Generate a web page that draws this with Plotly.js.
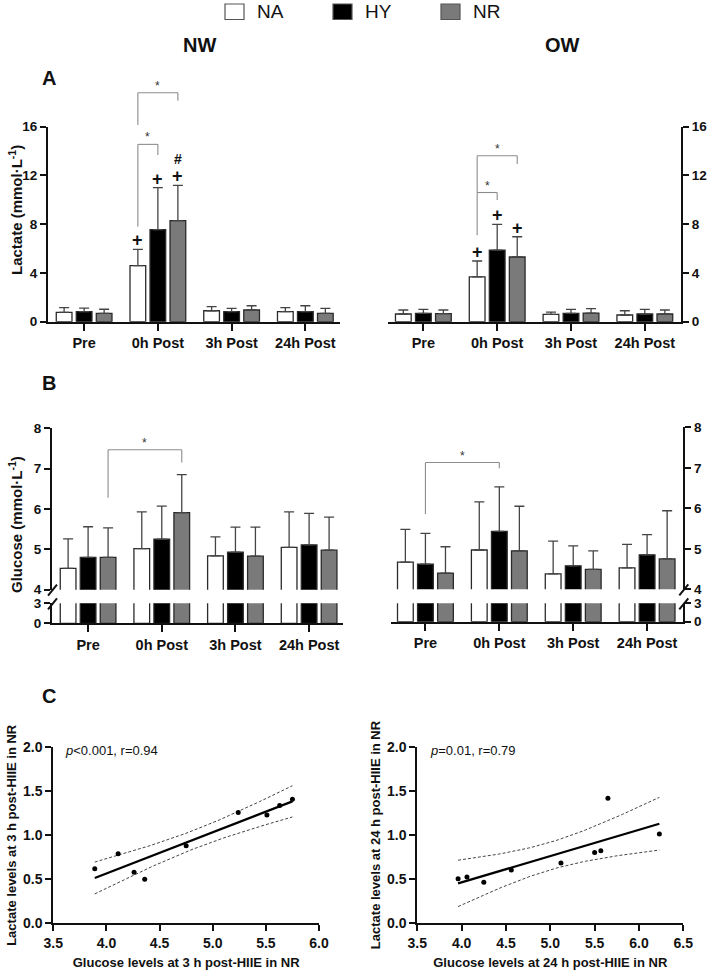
<!DOCTYPE html>
<html>
<head>
<meta charset="utf-8">
<script src="https://cdn.plot.ly/plotly-3.0.1.min.js"></script>
<style>
  html, body { margin: 0; padding: 0; background: #fff; }
  #chart { width: 709px; height: 970px; }
</style>
</head>
<body>
<div id="chart"></div>
<script>
// ---------------- data ----------------
const timepoints = ['Pre', '0h Post', '3h Post', '24h Post'];
const groups = ['NA', 'HY', 'NR'];

// Blood lactate (mmol·L-1), mean and SD — normal weight (NW)
const lacNW_NA = [0.77, 4.60, 0.90, 0.82];
const lacNW_HY = [0.82, 7.55, 0.82, 0.82];
const lacNW_NR = [0.68, 8.29, 0.96, 0.68];
const lacNW_NA_sd = [0.38, 1.34, 0.33, 0.33];
const lacNW_HY_sd = [0.30, 3.45, 0.28, 0.49];
const lacNW_NR_sd = [0.34, 2.90, 0.35, 0.42];

// Blood lactate — overweight (OW)
const lacOW_NA = [0.63, 3.67, 0.60, 0.55];
const lacOW_HY = [0.68, 5.88, 0.68, 0.63];
const lacOW_NR = [0.66, 5.31, 0.71, 0.63];
const lacOW_NA_sd = [0.33, 1.31, 0.19, 0.35];
const lacOW_HY_sd = [0.33, 2.11, 0.33, 0.38];
const lacOW_NR_sd = [0.30, 1.66, 0.36, 0.33];

// Blood glucose (mmol·L-1) — NW
const gluNW_NA = [4.53, 5.02, 4.84, 5.05];
const gluNW_HY = [4.80, 5.25, 4.93, 5.11];
const gluNW_NR = [4.80, 5.91, 4.83, 4.98];
const gluNW_NA_sd = [0.73, 0.91, 0.47, 0.88];
const gluNW_HY_sd = [0.76, 0.82, 0.62, 0.78];
const gluNW_NR_sd = [0.73, 0.94, 0.72, 0.82];

// Blood glucose — OW
const gluOW_NA = [4.67, 4.97, 4.38, 4.53];
const gluOW_HY = [4.62, 5.43, 4.58, 4.85];
const gluOW_NR = [4.40, 4.95, 4.49, 4.75];
const gluOW_NA_sd = [0.81, 1.19, 0.81, 0.58];
const gluOW_HY_sd = [0.76, 1.10, 0.49, 0.50];
const gluOW_NR_sd = [0.65, 1.10, 0.46, 1.19];

// Symbols over bars: [timepoint, group, symbol]
const marksLacNW = [[1, 0, '+'], [1, 1, '+'], [1, 2, '+'], [1, 2, '#']];
const marksLacOW = [[1, 0, '+'], [1, 1, '+'], [1, 2, '+']];

// Significance brackets: [tpFrom, groupFrom, tpTo, groupTo, top, leftEnd, rightEnd]
const bracketsLacNW = [[1, 0, 1, 1, 14.55, 7.8, 13.67], [1, 0, 1, 2, 18.79, 16.14, 18.13]];
const bracketsLacOW = [[1, 0, 1, 1, 10.6, 7.1, 9.98], [1, 0, 1, 2, 13.62, 10.6, 12.94]];
const bracketsGluNW = [[0, 2, 1, 2, 7.47, 6.28, 7.15]];
const bracketsGluOW = [[0, 1, 1, 1, 7.13, 5.86, 6.99]];

// Correlations in NR: glucose vs lactate
const glu3h  = [3.89, 4.11, 4.26, 4.36, 4.75, 5.24, 5.51, 5.63, 5.75];
const lac3h  = [0.62, 0.79, 0.58, 0.50, 0.88, 1.26, 1.23, 1.34, 1.41];
const glu24h = [3.96, 4.06, 4.25, 4.56, 5.12, 5.50, 5.57, 5.65, 6.23];
const lac24h = [0.50, 0.52, 0.46, 0.60, 0.68, 0.80, 0.82, 1.42, 1.01];
const stats3h  = '<i>p</i>&lt;0.001, r=0.94';
const stats24h = '<i>p</i>=0.01, r=0.79';

// ---------------- helpers ----------------
const W = 709, H = 970;
const fx = p => p / W;          // pixel column -> paper x
const fy = p => 1 - p / H;      // pixel row -> paper y

const FONT = 'Liberation Sans, Arial, Helvetica, sans-serif';
const INK = '#111111';
const BRACKET = '#8c8c8c';
const fills = ['#ffffff', '#000000', '#7a7a7a'];

const BARGAP = 0.186, BARGROUPGAP = 0.215;
const OFF = (1 - BARGAP) / 3;   // spacing of bar centres inside a group

const ranges = {};
const dom = (ax, v) => { const r = ranges[ax]; return (v - r[0]) / (r[1] - r[0]); };

function catAxis(px0, px1, range, anchor) {
  return {
    domain: [fx(px0), fx(px1)], range, anchor,
    tickvals: [0, 1, 2, 3], ticktext: timepoints,
    showline: true, linewidth: 2, linecolor: INK,
    ticks: 'outside', ticklen: 7, tickwidth: 2, tickcolor: INK,
    showgrid: false, zeroline: false,
    tickfont: { family: FONT, size: 14.5, color: INK, weight: 'bold' }
  };
}
function valAxis(top, bottom, range, anchor, side, tickvals, shift) {
  return {
    domain: [fy(bottom), fy(top)], range, anchor, side, tickvals,
    showline: true, linewidth: 2, linecolor: INK,
    ticks: 'outside', ticklen: 6, tickwidth: 2, tickcolor: INK,
    showgrid: false, zeroline: false, ticklabelshift: shift || 0,
    tickfont: { family: FONT, size: 13.5, color: INK, weight: 'bold' }
  };
}

const traces = [];
const shapes = [];
const annotations = [];

function addBars(xa, ya, series, sds) {
  series.forEach((vals, g) => {
    traces.push({
      type: 'bar', x: [0, 1, 2, 3], y: vals, xaxis: xa, yaxis: ya,
      name: groups[g], showlegend: false, hoverinfo: 'skip',
      marker: { color: fills[g], line: { color: '#2a2a2a', width: 1.3 } },
      error_y: sds
        ? { type: 'data', symmetric: false, array: sds[g], arrayminus: [0, 0, 0, 0],
            color: '#444', thickness: 1.3, width: 5 }
        : { visible: false }
    });
  });
}

function addMarks(xa, ya, series, sds, marks) {
  const seen = {};
  marks.forEach(([t, g, sym]) => {
    const key = t + '-' + g;
    const k = seen[key] || 0; seen[key] = k + 1;
    annotations.push({
      xref: xa + ' domain', yref: ya + ' domain',
      x: dom(xa, t + (g - 1) * OFF), y: dom(ya, series[g][t] + sds[g][t]),
      text: sym, showarrow: false, xanchor: 'center', yanchor: 'middle',
      yshift: 9 + k * 17, borderpad: 0,
      font: { family: FONT, size: sym === '+' ? 18 : 14, color: INK, weight: 'bold' }
    });
  });
}

function addBrackets(xa, ya, list) {
  list.forEach(([t0, g0, t1, g1, top, l, r]) => {
    const xl = dom(xa, t0 + (g0 - 1) * OFF), xr = dom(xa, t1 + (g1 - 1) * OFF);
    const yt = dom(ya, top), yl = dom(ya, l), yr = dom(ya, r);
    const base = { type: 'line', xref: xa + ' domain', yref: ya + ' domain',
                   line: { color: BRACKET, width: 1.1 } };
    shapes.push(Object.assign({}, base, { x0: xl, x1: xl, y0: yl, y1: yt }));
    shapes.push(Object.assign({}, base, { x0: xl, x1: xr, y0: yt, y1: yt }));
    shapes.push(Object.assign({}, base, { x0: xr, x1: xr, y0: yt, y1: yr }));
    annotations.push({
      xref: xa + ' domain', yref: ya + ' domain', x: (xl + xr) / 2, y: yt,
      text: '*', showarrow: false, xanchor: 'center', yanchor: 'middle', yshift: 7,
      font: { family: FONT, size: 12, color: '#333' }
    });
  });
}

// axis break marks on a split value axis (pixel position of axis line and segment ends)
function addBreak(axisPx, upperEndPx, lowerEndPx) {
  [upperEndPx, lowerEndPx].forEach(e => {
    shapes.push({ type: 'line', xref: 'paper', yref: 'paper',
      x0: fx(axisPx - 4), y0: fy(e + 6), x1: fx(axisPx + 5), y1: fy(e - 5),
      line: { color: INK, width: 2 } });
  });
}

// ---------------- regression with 95% confidence band ----------------
function lgamma(z) {
  const c = [0.99999999999980993, 676.5203681218851, -1259.1392167224028, 771.32342877765313,
             -176.61502916214059, 12.507343278686905, -0.13857109526572012,
             9.9843695780195716e-6, 1.5056327351493116e-7];
  if (z < 0.5) return Math.log(Math.PI / Math.sin(Math.PI * z)) - lgamma(1 - z);
  z -= 1;
  let x = c[0];
  for (let i = 1; i < 9; i++) x += c[i] / (z + i);
  const t = z + 7.5;
  return 0.5 * Math.log(2 * Math.PI) + (z + 0.5) * Math.log(t) - t + Math.log(x);
}
function tHalfArea(T, nu) {
  const k = Math.exp(lgamma((nu + 1) / 2) - lgamma(nu / 2)) / Math.sqrt(nu * Math.PI);
  const n = 400, h = T / n;
  let s = 0;
  for (let i = 0; i <= n; i++) {
    const t = i * h, f = k * Math.pow(1 + t * t / nu, -(nu + 1) / 2);
    s += (i === 0 || i === n) ? f : (i % 2 ? 4 * f : 2 * f);
  }
  return s * h / 3;
}
function tCrit(nu) {
  let lo = 0, hi = 20;
  for (let i = 0; i < 60; i++) { const m = (lo + hi) / 2; if (tHalfArea(m, nu) < 0.475) lo = m; else hi = m; }
  return (lo + hi) / 2;
}
function fit(xs, ys) {
  const n = xs.length;
  const mx = xs.reduce((a, b) => a + b, 0) / n, my = ys.reduce((a, b) => a + b, 0) / n;
  let sxx = 0, sxy = 0;
  xs.forEach((x, i) => { sxx += (x - mx) ** 2; sxy += (x - mx) * (ys[i] - my); });
  const b = sxy / sxx, a = my - b * mx;
  let sse = 0;
  xs.forEach((x, i) => { sse += (ys[i] - a - b * x) ** 2; });
  const s = Math.sqrt(sse / (n - 2)), t = tCrit(n - 2);
  const x0 = Math.min(...xs), x1 = Math.max(...xs);
  const gx = [], gy = [], up = [], lo = [];
  for (let i = 0; i <= 60; i++) {
    const x = x0 + (x1 - x0) * i / 60, y = a + b * x;
    const hw = t * s * Math.sqrt(1 / n + (x - mx) ** 2 / sxx);
    gx.push(x); gy.push(y); up.push(y + hw); lo.push(y - hw);
  }
  return { gx, gy, up, lo };
}
function addScatter(xa, ya, xs, ys) {
  const f = fit(xs, ys);
  const dash = { color: '#444', width: 1, dash: '3px,2px' };
  traces.push({ type: 'scatter', mode: 'lines', x: f.gx, y: f.up, xaxis: xa, yaxis: ya, line: dash, showlegend: false, hoverinfo: 'skip' });
  traces.push({ type: 'scatter', mode: 'lines', x: f.gx, y: f.lo, xaxis: xa, yaxis: ya, line: dash, showlegend: false, hoverinfo: 'skip' });
  traces.push({ type: 'scatter', mode: 'lines', x: f.gx, y: f.gy, xaxis: xa, yaxis: ya, line: { color: '#000', width: 2.2 }, showlegend: false, hoverinfo: 'skip' });
  traces.push({ type: 'scatter', mode: 'markers', x: xs, y: ys, xaxis: xa, yaxis: ya, marker: { color: '#000', size: 5 }, showlegend: false, hoverinfo: 'skip' });
}

// ---------------- axes ----------------
const layout = {
  width: W, height: H, margin: { l: 0, r: 0, t: 0, b: 0 },
  paper_bgcolor: '#ffffff', plot_bgcolor: 'rgba(0,0,0,0)',
  barmode: 'group', bargap: BARGAP, bargroupgap: BARGROUPGAP,
  showlegend: false, font: { family: FONT, color: INK }
};

// A: lactate
ranges.x = [-0.49, 3.47];  ranges.y = [0, 16];
ranges.x2 = [-0.475, 3.49]; ranges.y2 = [0, 16];
layout.xaxis = catAxis(48, 340, ranges.x, 'y');
layout.yaxis = valAxis(126.7, 321.7, ranges.y, 'x', 'left', [0, 4, 8, 12, 16]);
layout.xaxis2 = catAxis(388.3, 681, ranges.x2, 'y2');
layout.yaxis2 = valAxis(126.7, 321.7, ranges.y2, 'x2', 'right', [0, 4, 8, 12, 16]);

// B: glucose, split value axis
ranges.x3 = [-0.49, 3.46]; ranges.y3 = [4, 8]; ranges.y4 = [0, 3];
ranges.x4 = [-0.47, 3.49]; ranges.y5 = [4, 8]; ranges.y6 = [0, 3];
layout.xaxis3 = catAxis(52, 343, ranges.x3, 'y4');
layout.yaxis3 = valAxis(428.3, 589.7, ranges.y3, 'x3', 'left', [4, 5, 6, 7, 8], 1.5);
layout.yaxis4 = valAxis(603.3, 623.3, ranges.y4, 'x3', 'left', [0, 3], -1.5);
layout.xaxis4 = catAxis(390.7, 683.3, ranges.x4, 'y6');
layout.yaxis5 = valAxis(427.3, 589.3, ranges.y5, 'x4', 'right', [4, 5, 6, 7, 8], 1.5);
layout.yaxis6 = valAxis(603.3, 621.7, ranges.y6, 'x4', 'right', [0, 3], -1.5);

// C: correlations
function numAxisX(px0, px1, range, anchor, title) {
  return {
    domain: [fx(px0), fx(px1)], range, anchor, tick0: range[0], dtick: 0.5, tickformat: '.1f',
    showline: true, linewidth: 2, linecolor: INK, ticks: 'outside', ticklen: 6, tickwidth: 2, tickcolor: INK,
    showgrid: false, zeroline: false,
    tickfont: { family: FONT, size: 14, color: INK, weight: 'bold' },
    title: { text: title, standoff: 9, font: { family: FONT, size: 13, color: INK, weight: 'bold' } }
  };
}
function numAxisY(top, bottom, range, anchor, title) {
  return {
    domain: [fy(bottom), fy(top)], range, anchor, tick0: 0, dtick: 0.5, tickformat: '.1f',
    showline: true, linewidth: 2, linecolor: INK, ticks: 'outside', ticklen: 6, tickwidth: 2, tickcolor: INK,
    showgrid: false, zeroline: false,
    tickfont: { family: FONT, size: 14, color: INK, weight: 'bold' },
    title: { text: title, standoff: 3, font: { family: FONT, size: 13, color: INK, weight: 'bold' } }
  };
}
layout.xaxis5 = numAxisX(53.3, 319, [3.5, 6.0], 'y7', 'Glucose levels at 3 h post-HIIE in NR');
layout.yaxis7 = numAxisY(747.3, 923.3, [0, 2], 'x5', 'Lactate levels at 3 h post-HIIE in NR');
layout.xaxis6 = numAxisX(417.3, 683.3, [3.5, 6.5], 'y8', 'Glucose levels at 24 h post-HIIE in NR');
layout.yaxis8 = numAxisY(747.3, 922.7, [0, 2], 'x6', 'Lactate levels at 24 h post-HIIE in NR');

// ---------------- marks ----------------
const lacNW = [lacNW_NA, lacNW_HY, lacNW_NR], lacNWsd = [lacNW_NA_sd, lacNW_HY_sd, lacNW_NR_sd];
const lacOW = [lacOW_NA, lacOW_HY, lacOW_NR], lacOWsd = [lacOW_NA_sd, lacOW_HY_sd, lacOW_NR_sd];
const gluNW = [gluNW_NA, gluNW_HY, gluNW_NR], gluNWsd = [gluNW_NA_sd, gluNW_HY_sd, gluNW_NR_sd];
const gluOW = [gluOW_NA, gluOW_HY, gluOW_NR], gluOWsd = [gluOW_NA_sd, gluOW_HY_sd, gluOW_NR_sd];

addBars('x', 'y', lacNW, lacNWsd);
addBars('x2', 'y2', lacOW, lacOWsd);
addBars('x3', 'y3', gluNW, gluNWsd);
addBars('x3', 'y4', gluNW, null);
addBars('x4', 'y5', gluOW, gluOWsd);
addBars('x4', 'y6', gluOW, null);

addMarks('x', 'y', lacNW, lacNWsd, marksLacNW);
addMarks('x2', 'y2', lacOW, lacOWsd, marksLacOW);
addBrackets('x', 'y', bracketsLacNW);
addBrackets('x2', 'y2', bracketsLacOW);
addBrackets('x3', 'y3', bracketsGluNW);
addBrackets('x4', 'y5', bracketsGluOW);

addBreak(52, 589.7, 603.3);
addBreak(683.3, 589.3, 603.3);

addScatter('x5', 'y7', glu3h, lac3h);
addScatter('x6', 'y8', glu24h, lac24h);

// ---------------- text ----------------
function label(text, x, y, size, extra) {
  annotations.push(Object.assign({
    xref: 'paper', yref: 'paper', x: fx(x), y: fy(y), text, showarrow: false,
    xanchor: 'center', yanchor: 'middle',
    font: { family: FONT, size, color: INK, weight: 'bold' }
  }, extra || {}));
}
label('NW', 199, 45, 20);
label('OW', 562, 45, 20);
label('A', 49, 78, 20);
label('B', 49, 383, 20);
label('C', 49, 696, 20);
label('Lactate (mmol·L<sup>-1</sup>)', 15, 210, 15, { textangle: -90 });
label('Glucose (mmol·L<sup>-1</sup>)', 15, 525, 15, { textangle: -90 });

annotations.push({ xref: 'x5 domain', yref: 'y7 domain', x: 0.038, y: 0.98, text: stats3h,
  showarrow: false, xanchor: 'left', yanchor: 'middle', font: { family: FONT, size: 13, color: INK } });
annotations.push({ xref: 'x6 domain', yref: 'y8 domain', x: 0.04, y: 0.98, text: stats24h,
  showarrow: false, xanchor: 'left', yanchor: 'middle', font: { family: FONT, size: 13, color: INK } });

// legend
const legendX = [225, 333, 441];
groups.forEach((g, i) => {
  shapes.push({ type: 'rect', xref: 'paper', yref: 'paper',
    x0: fx(legendX[i]), x1: fx(legendX[i] + 19), y0: fy(19.5), y1: fy(4),
    fillcolor: fills[i], line: { color: '#555', width: 1.2 } });
  annotations.push({ xref: 'paper', yref: 'paper', x: fx(legendX[i] + 30), y: fy(11.5),
    text: g, showarrow: false, xanchor: 'left', yanchor: 'middle',
    font: { family: FONT, size: 19, color: INK } });
});

layout.shapes = shapes;
layout.annotations = annotations;

Plotly.newPlot('chart', traces, layout, { staticPlot: true, displayModeBar: false });
</script>
</body>
</html>
